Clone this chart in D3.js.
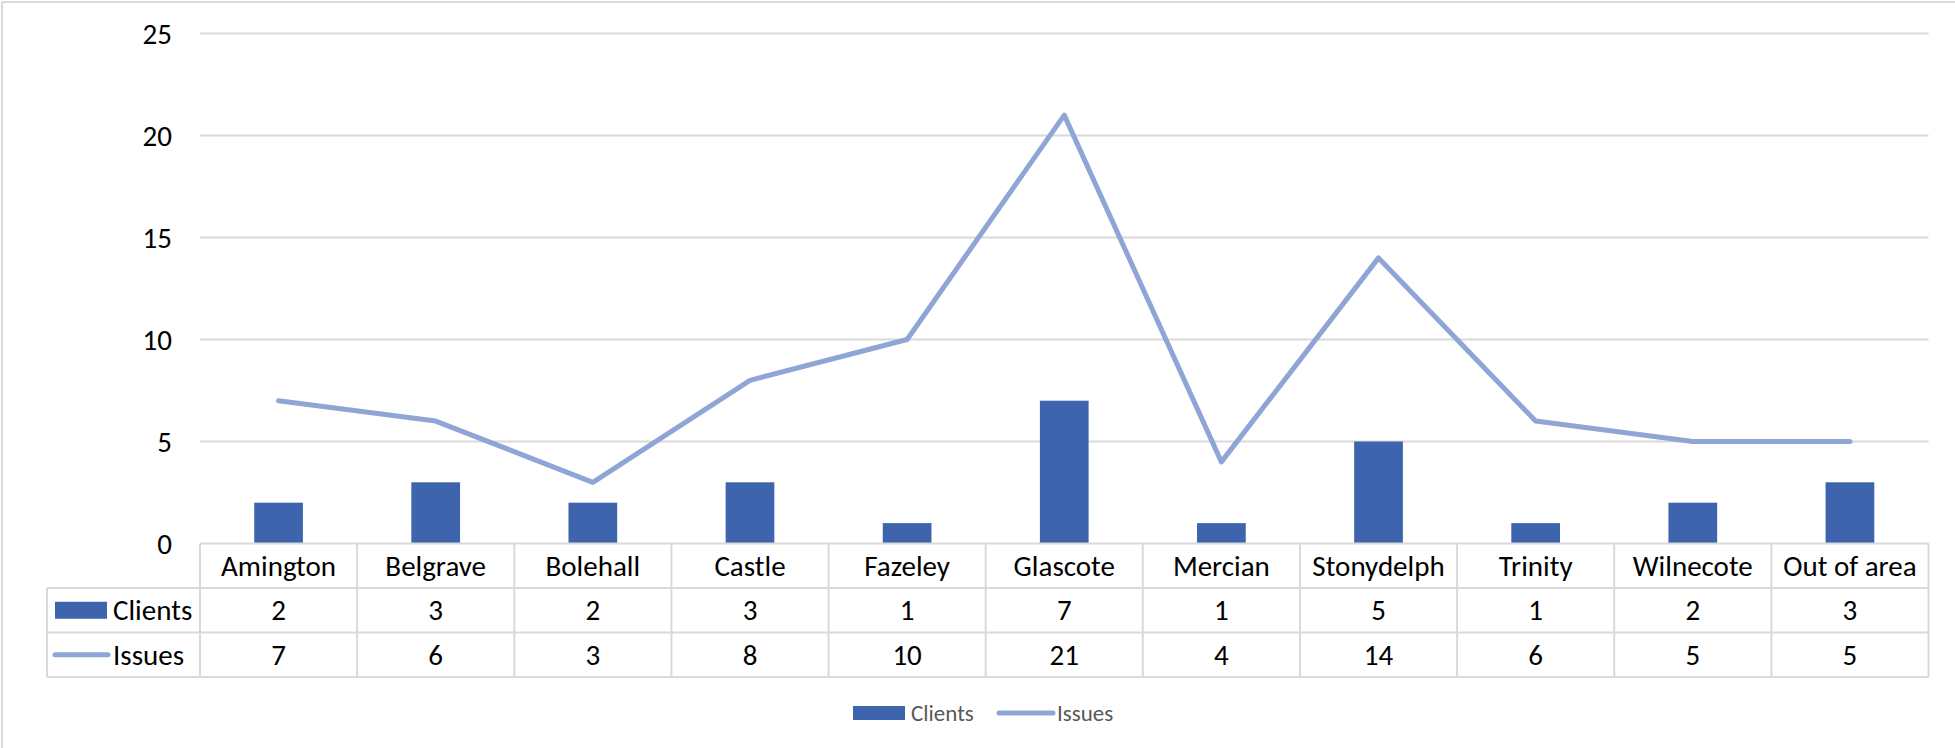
<!DOCTYPE html>
<html><head><meta charset="utf-8">
<script src="https://cdn.jsdelivr.net/npm/d3@7"></script>
<style>html,body{margin:0;padding:0;background:#fff;}svg{display:block;}</style>
</head><body>
<script>
const categories = ["Amington","Belgrave","Bolehall","Castle","Fazeley","Glascote","Mercian","Stonydelph","Trinity","Wilnecote","Out of area"];
const clients = [2,3,2,3,1,7,1,5,1,2,3];
const issues = [7,6,3,8,10,21,4,14,6,5,5];
const yTicks = [0,5,10,15,20,25];
const seriesNames = ["Clients","Issues"];

const W = 1955, H = 748;
const FONT = "Carlito, Calibri, Lato, sans-serif";
const FS = 29;
const barColor = "#3D64AD", lineColor = "#8EA5D6", gridColor = "#D9D9D9";
const x0 = 200, x1 = 1928.5, yZero = 543.5, yTop = 33.5;
const rowH = 44.5, legX = 47;

const svg = d3.select("body").append("svg").attr("width", W).attr("height", H);

// chart border (top & left visible)
svg.append("line").attr("x1",2).attr("x2",W).attr("y1",2).attr("y2",2).attr("stroke",gridColor).attr("stroke-width",2);
svg.append("line").attr("x1",2).attr("x2",2).attr("y1",2).attr("y2",H).attr("stroke",gridColor).attr("stroke-width",2);

const x = d3.scaleBand().domain(categories).range([x0, x1]);
const y = d3.scaleLinear().domain([0,25]).range([yZero, yTop]);

// gridlines
svg.append("g").selectAll("line").data(yTicks.filter(d=>d>0)).join("line")
  .attr("x1",x0).attr("x2",x1).attr("y1",d=>y(d)).attr("y2",d=>y(d))
  .attr("stroke",gridColor).attr("stroke-width",2);

// y axis labels
const yAxis = d3.axisLeft(y).tickValues(yTicks).tickSize(0).tickPadding(0);
const ga = svg.append("g").attr("transform",`translate(172,0)`).call(yAxis);
ga.select(".domain").remove();
ga.selectAll("text").attr("font-family",FONT).attr("font-size",FS).attr("fill","#000").attr("dy","0.35em");

// bars
const bw = x.bandwidth()*0.31;
svg.append("g").selectAll("rect").data(categories).join("rect")
  .attr("x",(d)=>x(d)+x.bandwidth()/2-bw/2)
  .attr("width",bw)
  .attr("y",(d,i)=>y(clients[i]))
  .attr("height",(d,i)=>y(0)-y(clients[i]))
  .attr("fill",barColor);

// line
const line = d3.line().x((d,i)=>x(categories[i])+x.bandwidth()/2).y(d=>y(d));
svg.append("path").datum(issues).attr("d",line).attr("fill","none")
  .attr("stroke",lineColor).attr("stroke-width",5).attr("stroke-linejoin","round").attr("stroke-linecap","round");

// data table
const tb = svg.append("g");
const r0 = yZero, r1 = yZero+rowH, r2 = yZero+2*rowH, r3 = yZero+3*rowH;
const gl = (a,b,c,d)=>tb.append("line").attr("x1",a).attr("y1",b).attr("x2",c).attr("y2",d).attr("stroke",gridColor).attr("stroke-width",2);
gl(x0,r0,x1,r0);
gl(legX,r1,x1,r1);
gl(legX,r2,x1,r2);
gl(legX,r3,x1,r3);
gl(legX,r1,legX,r3);
categories.forEach(c=>gl(x(c),r0,x(c),r3));
gl(x1,r0,x1,r3);

const cellText = (txt, cx, cy) => tb.append("text").attr("x",cx).attr("y",cy).attr("text-anchor","middle")
  .attr("dominant-baseline","central").attr("font-family",FONT).attr("font-size",FS).attr("fill","#000").text(txt);
categories.forEach((c,i)=>{
  const cx = x(c)+x.bandwidth()/2;
  cellText(c, cx, (r0+r1)/2);
  cellText(clients[i], cx, (r1+r2)/2);
  cellText(issues[i], cx, (r2+r3)/2);
});
// legend keys in table
tb.append("rect").attr("x",55).attr("y",(r1+r2)/2-8.5).attr("width",52).attr("height",17).attr("fill",barColor);
tb.append("text").attr("x",113).attr("y",(r1+r2)/2).attr("dominant-baseline","central").attr("font-family",FONT).attr("font-size",FS).text(seriesNames[0]);
tb.append("line").attr("x1",55).attr("x2",108).attr("y1",(r2+r3)/2).attr("y2",(r2+r3)/2).attr("stroke",lineColor).attr("stroke-width",5).attr("stroke-linecap","round");
tb.append("text").attr("x",113).attr("y",(r2+r3)/2).attr("dominant-baseline","central").attr("font-family",FONT).attr("font-size",FS).text(seriesNames[1]);

// bottom legend
const lg = svg.append("g");
const ly = 713;
lg.append("rect").attr("x",853).attr("y",ly-7).attr("width",52).attr("height",14).attr("fill",barColor);
lg.append("text").attr("x",911).attr("y",ly).attr("dominant-baseline","central").attr("font-family",FONT).attr("font-size",23).attr("fill","#595959").text(seriesNames[0]);
lg.append("line").attr("x1",999).attr("x2",1053).attr("y1",ly).attr("y2",ly).attr("stroke",lineColor).attr("stroke-width",5).attr("stroke-linecap","round");
lg.append("text").attr("x",1057).attr("y",ly).attr("dominant-baseline","central").attr("font-family",FONT).attr("font-size",23).attr("fill","#595959").text(seriesNames[1]);
</script>
</body></html>
